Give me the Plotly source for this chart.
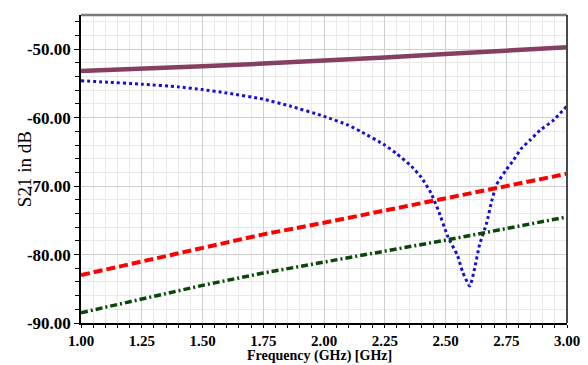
import plotly.graph_objects as go

# ---- data ----
purple_f = [1.00, 1.25, 1.50, 1.75, 2.00, 2.25, 2.50, 2.75, 3.00]
purple_db = [-53.2, -52.9, -52.5, -52.1, -51.7, -51.2, -50.7, -50.2, -49.7]

blue_f = [1.00, 1.10, 1.25, 1.40, 1.50, 1.60, 1.75, 1.86, 2.00, 2.10, 2.15, 2.25,
          2.30, 2.36, 2.40, 2.44, 2.47, 2.51, 2.55, 2.57, 2.60, 2.62, 2.64, 2.67,
          2.69, 2.71, 2.75, 2.78, 2.81, 2.85, 2.89, 2.94, 3.00]
blue_db = [-54.6, -54.8, -55.1, -55.5, -55.9, -56.4, -57.3, -58.3, -59.8, -61.1, -62.0, -64.0,
           -65.3, -67.1, -68.7, -71.0, -73.5, -77.4, -80.2, -82.5, -84.6, -82.0, -78.6, -75.3,
           -72.2, -69.8, -67.6, -66.2, -64.6, -63.2, -61.8, -60.5, -58.3]

red_f = [1.00, 1.25, 1.50, 1.75, 2.00, 2.25, 2.50, 2.75, 3.00]
red_db = [-83.0, -81.0, -78.9, -77.05, -75.35, -73.6, -71.8, -70.0, -68.2]

green_f = [1.00, 1.25, 1.50, 1.75, 2.00, 2.25, 2.50, 2.75, 3.00]
green_db = [-88.5, -86.5, -84.5, -82.7, -81.1, -79.6, -77.9, -76.2, -74.5]

x_ticks = [1.00, 1.25, 1.50, 1.75, 2.00, 2.25, 2.50, 2.75, 3.00]
y_ticks = [-90, -80, -70, -60, -50]

FONT = "Liberation Serif, Times New Roman, serif"

fig = go.Figure()
fig.add_trace(go.Scatter(x=purple_f, y=purple_db, mode="lines",
                         line=dict(color="#843f62", width=4.5)))
fig.add_trace(go.Scatter(x=blue_f, y=blue_db, mode="lines",
                         line=dict(color="#1212d6", width=3, dash="dot",
                                   shape="spline", smoothing=0.5)))
fig.add_trace(go.Scatter(x=red_f, y=red_db, mode="lines",
                         line=dict(color="#ff0000", width=4, dash="9px,4px")))
fig.add_trace(go.Scatter(x=green_f, y=green_db, mode="lines",
                         line=dict(color="#0a480a", width=3.5, dash="7px,3px,2px,3px")))

fig.update_layout(
    width=588, height=365,
    margin=dict(l=81, r=21, t=15, b=42),
    paper_bgcolor="white", plot_bgcolor="white",
    showlegend=False,
    font=dict(family=FONT, color="black"),
    xaxis=dict(
        range=[1.0, 3.0], automargin=False,
        tickvals=x_ticks, ticktext=[f"<b>{v:.2f}</b>" for v in x_ticks],
        tickfont=dict(family=FONT, size=15, color="black"),
        showgrid=True, gridcolor="#cfcfcf", gridwidth=1,
        showline=True, linecolor="black", linewidth=1.5,
        ticks="outside", ticklen=3, tickcolor="black", tickwidth=1,
        minor=dict(dtick=0.05, showgrid=True, gridcolor="#eaeaea", gridwidth=1,
                   ticks="outside", ticklen=3, tickcolor="black"),
        zeroline=False,
    ),
    yaxis=dict(
        range=[-90, -45], automargin=False,
        tickvals=y_ticks, ticktext=[f"<b>-{abs(v):.2f}</b>" for v in y_ticks],
        tickfont=dict(family=FONT, size=17, color="black"),
        showgrid=True, gridcolor="#cfcfcf", gridwidth=1,
        showline=True, linecolor="black", linewidth=1.5,
        ticks="outside", ticklen=5, tickcolor="black", tickwidth=1,
        minor=dict(dtick=2, showgrid=True, gridcolor="#eaeaea", gridwidth=1,
                   ticks="outside", ticklen=4, tickcolor="black"),
        zeroline=False,
    ),
    annotations=[
        dict(text="S21 in dB", xref="paper", yref="paper",
             x=-0.117, y=0.5, xanchor="center", yanchor="middle",
             textangle=-90, showarrow=False,
             font=dict(family=FONT, size=19, color="black")),
        dict(text="<b>Frequency (GHz) [GHz]</b>", xref="paper", yref="paper",
             x=0.49, y=-0.136, xanchor="center", yanchor="bottom",
             showarrow=False, borderpad=0,
             font=dict(family=FONT, size=14, color="black")),
    ],
    shapes=[
        dict(type="line", xref="paper", yref="paper", x0=0, x1=1, y0=1, y1=1,
             line=dict(color="#7a7a7a", width=2.5)),
        dict(type="line", xref="paper", yref="paper", x0=1, x1=1, y0=0, y1=1,
             line=dict(color="#4a4a4a", width=2)),
    ],
)

fig.write_html("out.html")
